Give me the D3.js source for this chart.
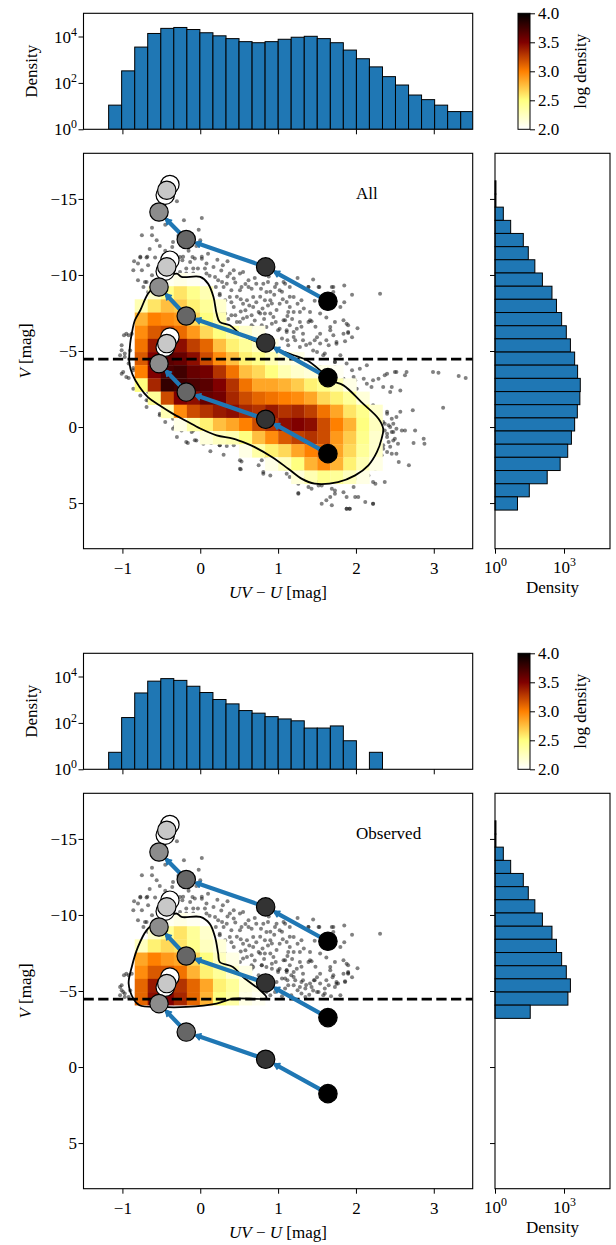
<!DOCTYPE html>
<html><head><meta charset="utf-8">
<script src="https://cdn.jsdelivr.net/npm/d3@7"></script>
<style>
body{margin:0;background:#fff}
text{font-family:"Liberation Serif","DejaVu Serif",serif;fill:#000}
</style>
</head><body>
<svg id="c" width="616" height="1245"></svg>
<script>
// ---------------- DATA ----------------
const xEdges = [-1.177,-1.010,-0.842,-0.675,-0.507,-0.340,-0.172,-0.005,0.163,0.331,0.498,0.666,0.833,1.001,1.168,1.336,1.503,1.671,1.838,2.006,2.173,2.341,2.508,2.676,2.843,3.011,3.178,3.346,3.513];
const vEdges = [-16.19,-15.32,-14.46,-13.59,-12.73,-11.86,-11.00,-10.13,-9.26,-8.40,-7.53,-6.66,-5.80,-4.93,-4.07,-3.20,-2.33,-1.47,-0.60,0.26,1.13,1.99,2.86,3.73,4.59,5.46];

const histXAll = [11,330,3500,13500,22400,24500,20000,14500,10700,8100,6000,5400,6000,7600,9300,10200,8100,5400,2600,1100,490,186,81,30,19,11,5.8,5.8];
const histXObs = [5.4,170,1950,6300,8100,6800,3800,2040,1020,660,340,263,186,148,123,60,60,74,17,0,5.4,0,0,0,0,0,0,0];
const histVAll = [1.1,1.1,2.3,4.8,17,28,54,115,300,470,790,1260,1900,2900,3900,5100,4900,3800,2900,2100,1450,680,186,31,9.5];
const histVObs = [1.1,1.1,2.3,4.8,17,28,54,115,300,470,790,1260,1900,1480,34,0,0,0,0,0,0,0,0,0,0];

// log10 density per cell, rows start at vEdges index 7, columns at xEdges index 0 (0 = empty)
const heatRowStart = 7;
const heatAll = [
 [0,0,0,0,2.05,2.1,2.05,0,0,0,0,0,0,0,0,0,0,0,0,0,0,0],
 [0,0,0,2.2,2.45,2.6,2.45,2.3,0,0,0,0,0,0,0,0,0,0,0,0,0,0],
 [0,0,2.3,2.6,2.75,2.7,2.55,2.4,2.2,0,0,0,0,0,0,0,0,0,0,0,0,0],
 [0,0,2.8,3.0,2.95,2.9,2.65,2.5,2.3,0,0,0,0,0,0,0,0,0,0,0,0,0],
 [0,0,2.95,3.15,3.2,3.08,2.9,2.65,2.5,2.35,2.2,2.1,0,0,0,0,0,0,0,0,0,0],
 [0,0,3.05,3.4,3.5,3.45,3.25,3.1,2.75,2.55,2.4,2.25,2.1,0,0,0,0,0,0,0,0,0],
 [0,0,3.15,3.5,3.65,3.6,3.45,3.2,2.95,2.75,2.55,2.45,2.3,2.15,2.1,0,0,0,0,0,0,0],
 [0,0,3.0,3.5,3.7,3.75,3.6,3.55,3.3,3.05,2.75,2.65,2.5,2.3,2.2,2.15,2.1,2.05,0,0,0,0],
 [0,0,2.5,3.35,3.8,3.75,3.7,3.65,3.5,3.3,3.05,2.85,2.85,2.8,2.7,2.55,2.45,2.3,2.1,0,0,0],
 [0,0,0,2.4,3.2,3.5,3.45,3.6,3.55,3.35,3.2,3.1,3.05,3.0,2.95,2.85,2.65,2.55,2.4,2.15,0,0],
 [0,0,0,0,2.3,2.95,3.2,3.3,3.4,3.45,3.35,3.3,3.4,3.3,3.35,3.25,3.05,2.85,2.6,2.45,2.2,0],
 [0,0,0,0,0,2.1,2.35,2.55,2.75,2.85,3.0,3.2,3.3,3.45,3.5,3.45,3.2,3.0,2.8,2.5,2.25,0],
 [0,0,0,0,0,0,0,2.15,2.25,2.3,2.5,2.75,2.95,3.15,3.25,3.3,3.2,2.9,2.7,2.45,2.2,0],
 [0,0,0,0,0,0,0,0,0,0,2.1,2.35,2.55,2.65,2.85,3.0,3.1,2.85,2.65,2.4,2.2,0],
 [0,0,0,0,0,0,0,0,0,0,0,0,2.1,2.25,2.5,2.8,2.95,2.8,2.55,2.3,2.1,0],
 [0,0,0,0,0,0,0,0,0,0,0,0,0,0,2.15,2.3,2.45,2.4,2.25,2.1,0,0]
];
const heatObs = [
 [0,0,0,0,2.05,2.1,2.05,0,0,0,0,0,0],
 [0,0,0,2.2,2.4,2.6,2.4,2.2,0,0,0,0,0],
 [0,0,2.25,2.55,2.65,2.6,2.45,2.25,2.15,0,0,0,0],
 [0,0,2.85,3.0,2.9,2.85,2.65,2.5,2.25,2.1,0,0,0],
 [0,0,2.95,3.15,3.15,3.05,2.8,2.55,2.4,2.2,2.1,0,0],
 [0,0,3.1,3.4,3.45,3.3,3.1,2.85,2.55,2.4,2.15,2.1,0],
 [0,0,3.1,3.45,3.5,3.35,3.1,2.8,2.5,2.35,2.1,2.05,0]
];

const contourAll = [[-0.30,-10.09],[-0.24,-9.87],[0.0,-9.87],[0.10,-9.43],[0.17,-8.55],[0.21,-7.46],[0.25,-6.91],[0.38,-6.69],[0.51,-6.14],[0.68,-5.70],[0.85,-5.37],[1.02,-5.05],[1.20,-4.72],[1.37,-4.39],[1.54,-3.73],[1.67,-3.07],[1.84,-2.74],[2.07,-1.64],[2.29,-0.55],[2.35,0.11],[2.33,0.76],[2.27,1.64],[2.16,2.52],[1.99,3.18],[1.77,3.62],[1.47,3.72],[1.30,3.39],[1.13,2.74],[0.92,1.97],[0.70,1.32],[0.60,1.09],[0.42,0.76],[0.21,0.55],[0.0,0.10],[-0.18,-0.40],[-0.36,-0.90],[-0.53,-1.45],[-0.67,-1.95],[-0.78,-2.63],[-0.87,-3.45],[-0.91,-4.19],[-0.90,-5.51],[-0.88,-6.14],[-0.84,-7.02],[-0.77,-7.68],[-0.67,-8.78],[-0.55,-9.40],[-0.42,-9.90]];
const contourObs = [[-0.30,-10.09],[-0.24,-9.87],[0.0,-9.87],[0.12,-9.43],[0.19,-8.55],[0.23,-7.46],[0.25,-6.91],[0.42,-6.58],[0.55,-5.92],[0.77,-5.05],[0.85,-4.55],[0.42,-4.50],[0.21,-4.17],[-0.18,-3.95],[-0.52,-3.95],[-0.78,-4.06],[-0.86,-4.50],[-0.92,-5.49],[-0.88,-6.58],[-0.80,-7.90],[-0.69,-8.99],[-0.55,-9.60],[-0.42,-9.95]];

const scatterAll = [
[-0.30,-14.85],[-0.21,-13.6],[0.02,-13.75],[-0.02,-12.98],[-0.75,-12.61],[-0.62,-12.61],[-0.56,-12.28],[-0.35,-12.17],[-0.36,-11.84],[0.0,-12.28],[-0.77,-11.14],[-0.69,-11.14],[-0.58,-11.14],[-0.26,-11.18],[-0.23,-10.97],[-0.10,-11.18],[0.02,-11.07],[0.08,-10.75],[-0.09,-10.42],[0.17,-10.53],[0.29,-10.64],[0.43,-10.31],[0.55,-10.2],[-0.86,-10.31],[-0.80,-9.65],[-0.69,-9.54],[-0.73,-9.21],[-0.67,-8.88],[-0.18,-10.09],[0.08,-10.09],[0.23,-9.65],[0.34,-9.43],[0.43,-9.76],[0.20,-9.21],[0.51,-8.99],[0.25,-8.77],[0.38,-8.55],[0.62,-9.21],[0.68,-8.55],[0.81,-9.43],[0.85,-8.88],[0.98,-9.43],[1.07,-9.54],[1.15,-9.21],[1.20,-8.55],[1.30,-8.33],[1.39,-9.21],[1.53,-9.21],[1.69,-9.21],[1.71,-8.88],[1.80,-7.9],[1.54,-7.46],[1.41,-7.57],[1.15,-7.9],[1.02,-8.11],[0.90,-8.33],[0.68,-7.9],[0.55,-8.11],[0.43,-7.9],[0.32,-7.46],[0.45,-7.35],[0.60,-7.24],[0.77,-7.46],[0.94,-7.24],[1.07,-7.02],[1.28,-6.91],[1.41,-7.02],[1.88,-6.8],[1.90,-6.25],[1.84,-6.14],[1.67,-6.36],[1.54,-6.14],[1.20,-6.25],[1.02,-6.47],[0.85,-6.58],[0.68,-6.58],[0.51,-6.91],[2.31,-8.77],[-0.95,-6.14],[-0.98,-6.03],
[1.11,-6.36],[1.20,-5.92],[1.32,-6.14],[1.47,-5.7],[1.71,-6.03],[1.90,-6.18],[1.28,-5.26],[1.45,-5.04],[1.60,-4.83],[1.75,-5.48],[1.80,-4.72],[1.73,-4.28],[1.88,-4.17],[1.54,-3.95],[2.05,-3.84],[2.14,-4.06],[1.97,-3.29],[2.40,-3.51],[2.50,-3.62],[2.65,-3.62],[2.63,-3.40],[2.14,-2.85],[2.22,-3.07],[2.35,-2.63],[2.44,-2.30],[2.57,-2.41],[2.99,-3.62],[3.06,-3.57],[3.32,-3.36],[3.41,-3.22],
[2.22,-1.0],[2.31,-0.88],[2.40,-1.0],[2.57,-1.0],[2.73,-1.1],[3.12,-1.27],[2.35,-0.33],[2.42,-0.11],[2.48,-0.22],[2.37,0.22],[2.46,0.33],[2.52,0.11],[2.63,0.22],[2.76,0.22],[2.40,0.66],[2.48,0.88],[2.35,1.2],[2.44,1.3],[2.40,1.64],[2.31,1.86],[2.54,1.1],[2.74,1.05],[2.87,0.77],[2.88,1.1],[2.68,2.52],[2.22,2.19],[2.14,3.07],[2.07,3.4],[2.25,3.73],[2.37,3.62],
[1.97,3.95],[1.88,4.6],[2.03,4.6],[2.22,5.04],[1.88,5.37],[1.92,5.37],[1.56,5.04],[1.67,4.6],[1.73,4.17],[1.52,3.84],[1.39,3.95],[1.28,3.51],[1.26,4.34],[1.20,3.62],[1.11,3.07],[1.07,2.63],[0.90,2.41],[0.85,1.97],[0.81,2.96],[0.51,2.19],[0.51,2.74],[0.25,1.2],[0.08,0.88],[-0.05,0.88],[-0.18,0.99],[-0.30,0.66],[-0.35,0.11],[-0.24,0.22],[-0.09,0.22],[-0.45,-0.33],[-0.52,-0.77],[-0.69,-1.32],[-0.67,-1.75],[-0.77,-2.08],[-0.86,-2.52],[-0.95,-3.29],[-0.99,-3.62],[-0.92,-4.17],[-0.97,-4.61],[-0.90,-5.04],[-0.92,-6.03],[-1.01,-5.37],[-0.88,-6.14],[0.79,1.43],[0.64,1.32],[0.43,1.2],[0.04,1.1],
[0.72,-9.43],[0.87,-9.54],[0.96,-9.21],[0.90,-8.89],[0.77,-8.56],[0.83,-8.34],[1.09,-9.43],[1.05,-8.89],[1.15,-8.56],[1.11,-8.23],[1.39,-9.21],[1.52,-9.21],[1.71,-9.21],[0.92,-8.12],[0.75,-7.57],[0.83,-7.46],[0.90,-7.46],[1.13,-7.57],[1.20,-7.57],[1.28,-7.57],[0.79,-6.69],[0.92,-6.8],[1.09,-7.02],[1.15,-6.69],[1.39,-6.91],[1.43,-6.96],[1.67,-6.58],[1.84,-7.02],[1.90,-6.69],[1.00,-6.36],[1.11,-6.25],[1.24,-6.47],[1.05,-5.82],[1.22,-5.7],[1.32,-5.7],[1.41,-5.49],[1.54,-5.49],[1.75,-5.6],[1.86,-5.64],[1.65,-5.38],[1.58,-4.72],[1.73,-4.28],[1.13,-5.38],[1.50,-4.94],
[0.19,-9.87],[0.28,-9.54],[0.38,-10.09],[0.51,-10.09],[0.62,-9.65],[0.30,-9.21],[0.40,-9.0],[0.53,-9.21],[0.66,-9.1],[0.25,-8.67],[0.32,-8.34],[0.47,-8.56],[0.60,-8.34],[0.21,-8.01],[0.28,-7.57],[0.40,-7.35],[0.58,-7.68],[0.66,-7.35],[0.47,-6.91],[0.55,-7.13],[0.66,-6.69],
[-0.77,-11.19],[-0.68,-11.19],[-0.80,-10.75],[-0.67,-10.64],[-0.75,-10.31],[-0.62,-9.98],[-0.71,-9.54],[-0.30,-11.08],[-0.22,-11.19],[-0.13,-10.86],[-0.07,-11.08],[0.02,-11.19],[0.06,-10.42],[-0.18,-10.42],[-0.26,-10.2],[-0.09,-10.09],[-0.03,-10.42],[-1.01,-5.05],[-1.03,-4.72],[-0.97,-4.83],
[-1.01,-3.51],[-0.92,-3.23],[-0.86,-3.73],[-0.86,-3.88],[-0.67,-2.31],[-0.69,-1.76],[-0.52,-1.54],[-0.52,-0.88],[-0.35,-0.55],[-0.33,0.0],[-0.20,-0.33],[-0.11,0.33],[-0.07,0.87],[0.04,0.33],[0.06,0.87],[-0.16,1.05],[0.14,1.05],[0.25,1.2],[0.34,1.25],[0.13,1.6],[0.30,1.82],[0.62,1.6],[0.63,1.42],[0.53,2.26],[0.52,2.78],
[1.73,-3.95],[1.84,-3.18],[1.95,-3.73],[1.99,-3.07],[2.10,-3.18],[2.01,-2.52],[2.20,-2.63],[2.29,-3.18],[2.46,-2.63],[2.37,-3.4],[2.52,-3.62],[2.22,-1.43],[2.31,-0.99],[2.40,-0.88],[2.46,-0.55],[2.52,-0.66],[2.37,-0.22],[2.44,0.0],[2.48,0.33],[2.40,0.44],[2.59,0.22],[2.50,0.77],[2.42,0.99],[2.35,1.42],[2.46,1.75],[2.52,1.75],[2.33,1.86],[2.55,2.3],[2.25,2.74],[2.16,3.18],[2.22,3.62],[1.99,3.4],[2.07,3.62],[1.77,3.62],[1.69,4.06],[1.84,4.28],[1.73,4.39],[1.99,4.6],[1.62,4.82],[1.69,5.15],[1.88,5.37],[1.92,5.37],[2.12,4.93],[2.22,5.04],[1.35,3.4],[1.24,2.96],[1.15,3.29],[1.26,3.73],[1.26,4.39],[1.43,4.06],[1.56,3.84],[1.09,2.74],[0.96,2.63],[0.87,2.3],[0.81,3.07],[0.90,3.18],[1.30,2.85],[1.50,3.62],[0.79,2.19],[0.75,2.52],
[0.35,-9.9],[0.45,-9.5],[0.58,-9.4],[0.70,-9.8],[0.78,-9.1],[0.88,-9.9],[0.95,-8.7],[1.02,-9.0],[0.40,-8.2],[0.52,-8.4],[0.63,-8.0],[0.72,-8.2],[0.80,-7.8],[0.87,-8.0],[0.98,-7.7],[1.06,-8.4],[1.12,-7.3],[1.25,-8.1],[1.33,-7.8],[1.47,-8.3],[1.58,-8.0],[0.36,-7.1],[0.52,-7.6],[0.70,-7.0],[0.82,-7.1],[0.97,-6.9],[1.18,-7.1],[1.30,-6.6],[1.48,-6.6],[1.62,-7.2],[1.73,-6.9],[1.50,-5.9],[1.62,-5.7],[1.36,-5.4],[1.12,-5.7],[1.95,-5.9],[2.02,-6.5],[1.85,-8.2],[0.27,-10.3],[0.12,-9.95],[-0.45,-11.6],[-0.52,-11.9],[-0.40,-11.3],[-0.65,-11.7],[-0.50,-10.7],[-0.85,-10.9],[-0.15,-11.6],[-0.05,-11.9],[0.10,-11.4],[0.22,-11.0],[0.35,-10.9],[-0.28,-12.6],[-0.12,-12.4],[-0.62,-13.1],[-0.45,-13.3],[1.25,-9.8],[1.45,-9.7],[1.85,-9.3],[1.95,-8.7]
];
const scatterObsExtra = [
[0.25,-6.58],[0.32,-6.36],[0.43,-6.47],[0.53,-6.36],[0.66,-6.47],[0.79,-6.69],[0.62,-6.03],[0.75,-6.03],[0.49,-5.82],[0.92,-6.47],[1.00,-6.25],[1.11,-6.36],[1.17,-6.03],[1.09,-5.82],[1.20,-5.38],[1.30,-5.6],[1.35,-5.16],[1.43,-5.27],[1.09,-5.16],[0.96,-4.94],[1.17,-4.72],[1.30,-4.83],[1.35,-4.61],[1.52,-4.94],[1.60,-5.16],[1.73,-5.27],[1.77,-5.49],[1.86,-5.6],[1.90,-6.14],[0.85,-4.94],[0.90,-4.72],[0.79,-4.61],[0.40,-6.25],[0.28,-5.93],[0.58,-6.14],[0.68,-5.82],[0.73,-5.38],[0.62,-5.27],[0.53,-5.6],[0.47,-5.16],[0.36,-5.05],[0.23,-4.94],[-0.99,-4.94],[-1.03,-5.27],[-0.92,-4.61],
[0.33,-6.8],[0.45,-5.5],[0.58,-4.85],[0.70,-4.7],[0.88,-5.3],[0.98,-5.6],[1.05,-4.65],[1.25,-5.05],[1.40,-4.75],[1.46,-5.7],[1.68,-4.65],[1.70,-5.9]
];
const vCut = -4.47;

// evolutionary tracks: circle positions (UV-U, V)
const trackX = [
 [1.64,0.84,-0.18,-0.53,-0.45,-0.39,-0.43],
 [1.64,0.84,-0.18,-0.53,-0.45,-0.39,-0.43],
 [1.64,0.84,-0.18,-0.53,-0.45,-0.39,-0.43]
];
const trackV = [
 [-8.27,-10.53,-12.33,-14.14,-15.25,-15.95,-15.57],
 [-3.25,-5.53,-7.30,-9.21,-10.25,-10.97,-10.53],
 [1.75,-0.51,-2.30,-4.17,-5.25,-5.92,-5.49]
];
const trackShades = ["#000000","#333333","#666666","#8c8c8c","#ffffff","#ffffff","#c8c8c8"];

const xTicks = [-1,0,1,2,3];
const vTicks = [-15,-10,-5,0,5];
const histExps = [0,2,4];
const sideExps = [0,3];
const cbTicks = [2.0,2.5,3.0,3.5,4.0];
const panelLabels = ["All","Observed"];

// ---------------- DRAW ----------------
const svg = d3.select("#c");
const FS = 17;
const blue = "#1f77b4";

const xS = d3.scaleLinear([-1.5,3.5],[83.5,472.7]);
const vS = d3.scaleLinear([-18,8],[153.3,548.7]);
const hY = d3.scaleLog([1,1e5],[129.3,13.3]);
const sX = d3.scaleLog([1,1e5],[495,610]);
const cbS = d3.scaleLinear([2,4],[129.3,13.3]);

function afmhotR(v){
  const t = Math.max(0,Math.min(1,(v-2)/2)), u = 1-t;
  const c = x => Math.round(255*Math.max(0,Math.min(1,x)));
  return `rgb(${c(2*u)},${c(2*u-0.5)},${c(2*u-1)})`;
}
function minus(d){ return d<0 ? "\u2212"+Math.abs(d) : String(d); }
function pow10(sel,e){
  sel.text(null);
  sel.append("tspan").text("10");
  sel.append("tspan").attr("dy",-7).attr("font-size",FS*0.7).text(e);
}

const defs = svg.append("defs");
const grad = defs.append("linearGradient").attr("id","cbg").attr("x1",0).attr("y1",1).attr("x2",0).attr("y2",0);
d3.range(0,1.0001,0.05).forEach(t=>grad.append("stop").attr("offset",t).attr("stop-color",afmhotR(2+2*t)));
defs.append("clipPath").attr("id","clipM").append("rect").attr("x",83.5).attr("y",153.3).attr("width",389.2).attr("height",395.4);
defs.append("clipPath").attr("id","clipH").append("rect").attr("x",83.5).attr("y",13.3).attr("width",389.2).attr("height",116);

function section(idx, dy, histX, histV, heat, contour, scatter){
  const g = svg.append("g").attr("transform",`translate(0,${dy})`);

  // ---- top histogram
  const th = g.append("g").attr("clip-path","url(#clipH)");
  th.selectAll("rect").data(histX.map((v,i)=>({v,i})).filter(d=>d.v>0)).join("rect")
    .attr("x",d=>xS(xEdges[d.i])).attr("width",d=>xS(xEdges[d.i+1])-xS(xEdges[d.i]))
    .attr("y",d=>hY(d.v)).attr("height",d=>hY(1)-hY(d.v))
    .attr("fill",blue).attr("stroke","#000").attr("stroke-width",1);
  g.append("rect").attr("x",83.5).attr("y",13.3).attr("width",389.2).attr("height",116).attr("fill","none").attr("stroke","#000").attr("stroke-width",1.1);
  g.append("g").attr("transform","translate(0,129.3)").call(d3.axisBottom(xS).tickValues(xTicks).tickSize(5).tickFormat(""));
  const ty = g.append("g").attr("transform","translate(83.5,0)").call(d3.axisLeft(hY).tickValues(histExps.map(e=>Math.pow(10,e))).tickSize(5).tickFormat(""));
  ty.selectAll(".tick").append("text").attr("x",-6.5).attr("y",5.5).attr("text-anchor","end")
    .attr("font-size",FS).each(function(d){ pow10(d3.select(this), Math.round(Math.log10(d))); });
  g.append("text").attr("transform","translate(31,71.3) rotate(-90)").attr("text-anchor","middle").attr("dy","0.35em").attr("font-size",FS).text("Density");

  // ---- colorbar
  g.append("rect").attr("x",518).attr("y",13.3).attr("width",12).attr("height",116).attr("fill","url(#cbg)").attr("stroke","#000").attr("stroke-width",1);
  const cb = g.append("g").attr("transform","translate(530,0)").call(d3.axisRight(cbS).tickValues(cbTicks).tickSize(5).tickFormat(d3.format(".1f")));
  cb.selectAll("text").attr("font-size",FS).attr("x",8).attr("dy",null).attr("y",5.5);
  g.append("text").attr("transform","translate(580,71.3) rotate(-90)").attr("text-anchor","middle").attr("dy","0.35em").attr("font-size",FS).text("log density");

  // ---- main panel
  const m = g.append("g").attr("clip-path","url(#clipM)");
  m.append("g").selectAll("circle").data(scatter).join("circle")
    .attr("cx",d=>xS(d[0])).attr("cy",d=>vS(d[1])).attr("r",2).attr("fill","#1a1a1a").attr("opacity",0.55);
  const cells = [];
  heat.forEach((row,r)=>row.forEach((v,k)=>{ if(v>0) cells.push({j:r+heatRowStart,k,v}); }));
  m.append("g").selectAll("rect").data(cells).join("rect")
    .attr("x",d=>xS(xEdges[d.k])).attr("width",d=>xS(xEdges[d.k+1])-xS(xEdges[d.k])+0.3)
    .attr("y",d=>vS(vEdges[d.j])).attr("height",d=>vS(vEdges[d.j+1])-vS(vEdges[d.j])+0.3)
    .attr("fill",d=>afmhotR(d.v));
  m.append("path").datum(contour).attr("d",d3.line().x(d=>xS(d[0])).y(d=>vS(d[1])).curve(d3.curveCatmullRomClosed.alpha(0.5)))
    .attr("fill","none").attr("stroke","#000").attr("stroke-width",1.8);
  m.append("line").attr("x1",83.5).attr("x2",472.7).attr("y1",vS(vCut)).attr("y2",vS(vCut))
    .attr("stroke","#000").attr("stroke-width",2.8).attr("stroke-dasharray","10.3,4.4");

  // tracks
  const R = 9.2;
  trackX.forEach((xs,t)=>{
    const vs = trackV[t];
    const pts = xs.map((x,i)=>[xS(x),vS(vs[i])]);
    for(let i=0;i<3;i++){
      const a = pts[i], b = pts[i+1];
      const dx=b[0]-a[0], dyy=b[1]-a[1], L=Math.hypot(dx,dyy), ux=dx/L, uy=dyy/L;
      const tip=[b[0]-ux*(R+0.5), b[1]-uy*(R+0.5)];
      m.append("line").attr("x1",a[0]).attr("y1",a[1]).attr("x2",tip[0]-ux*2).attr("y2",tip[1]-uy*2)
        .attr("stroke",blue).attr("stroke-width",4.2).attr("stroke-linecap","round");
      const hl=5, hw=3.2, px=-uy, py=ux;
      const base=[tip[0]-ux*hl, tip[1]-uy*hl];
      m.append("path").attr("d",`M${tip[0]},${tip[1]}L${base[0]+px*hw},${base[1]+py*hw}L${base[0]-px*hw},${base[1]-py*hw}Z`)
        .attr("fill",blue).attr("stroke",blue).attr("stroke-width",1.5).attr("stroke-linejoin","round");
    }
    [4,5,6,3,2,1,0].forEach(i=>{
      m.append("circle").attr("cx",pts[i][0]).attr("cy",pts[i][1]).attr("r",R)
        .attr("fill",trackShades[i]).attr("stroke","#000").attr("stroke-width",1.2);
    });
  });

  g.append("rect").attr("x",83.5).attr("y",153.3).attr("width",389.2).attr("height",395.4).attr("fill","none").attr("stroke","#000").attr("stroke-width",1.1);
  const mx = g.append("g").attr("transform","translate(0,548.7)").call(d3.axisBottom(xS).tickValues(xTicks).tickSize(5).tickFormat(minus));
  mx.selectAll("text").attr("font-size",FS).attr("dy",null).attr("y",25.8);
  const my = g.append("g").attr("transform","translate(83.5,0)").call(d3.axisLeft(vS).tickValues(vTicks).tickSize(5).tickFormat(minus));
  my.selectAll("text").attr("font-size",FS).attr("x",-6.5).attr("dy",null).attr("y",5.8);
  const xl = g.append("text").attr("x",278).attr("y",597.5).attr("text-anchor","middle").attr("font-size",FS);
  xl.append("tspan").attr("font-style","italic").text("UV");
  xl.append("tspan").text(" \u2212 ");
  xl.append("tspan").attr("font-style","italic").text("U");
  xl.append("tspan").text(" [mag]");
  const yl = g.append("text").attr("transform","translate(25,351) rotate(-90)").attr("text-anchor","middle").attr("dy","0.35em").attr("font-size",FS);
  yl.append("tspan").attr("font-style","italic").text("V");
  yl.append("tspan").text(" [mag]");
  g.append("text").attr("x",356).attr("y",199).attr("font-size",FS).text(panelLabels[idx]);

  // ---- side histogram
  g.selectAll("rect.sb").data(histV.map((v,i)=>({v,i})).filter(d=>d.v>0)).join("rect").attr("class","sb")
    .attr("y",d=>vS(vEdges[d.i])).attr("height",d=>vS(vEdges[d.i+1])-vS(vEdges[d.i]))
    .attr("x",sX(1)).attr("width",d=>sX(d.v)-sX(1))
    .attr("fill",blue).attr("stroke","#000").attr("stroke-width",1);
  g.append("rect").attr("x",495).attr("y",153.3).attr("width",115).attr("height",395.4).attr("fill","none").attr("stroke","#000").attr("stroke-width",1.1);
  g.append("g").attr("transform","translate(495,0)").call(d3.axisLeft(vS).tickValues(vTicks).tickSize(5).tickFormat(""));
  const sx = g.append("g").attr("transform","translate(0,548.7)").call(d3.axisBottom(sX).tickValues(sideExps.map(e=>Math.pow(10,e))).tickSize(5).tickFormat(""));
  sx.selectAll(".tick").append("text").attr("y",24.5).attr("text-anchor","middle").attr("font-size",FS)
    .each(function(d){ pow10(d3.select(this), Math.round(Math.log10(d))); });
  g.append("text").attr("x",552.5).attr("y",592.5).attr("text-anchor","middle").attr("font-size",FS).text("Density");

  g.selectAll(".domain").remove();
  g.selectAll(".tick line").attr("stroke","#000").attr("stroke-width",1);
  g.selectAll(".tick text").attr("fill","#000").attr("font-family","'Liberation Serif','DejaVu Serif',serif");
}

section(0, 0, histXAll, histVAll, heatAll, contourAll, scatterAll);
section(1, 640, histXObs, histVObs, heatObs, contourObs, scatterAll.filter(d=>d[1]<vCut+0.15).concat(scatterObsExtra));
</script>
</body></html>
